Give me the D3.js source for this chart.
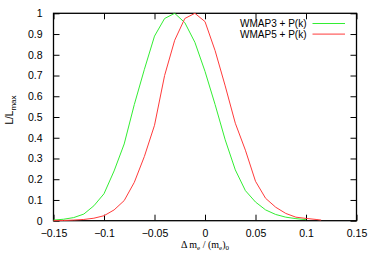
<!DOCTYPE html>
<html>
<head>
<meta charset="utf-8">
<script src="https://cdn.jsdelivr.net/npm/d3@7"></script>
<style>
  body { margin: 0; background: #fff; }
  text { font-family: "Liberation Sans", Arial, sans-serif; }
</style>
</head>
<body>
<script>
// chart size
var svgWidth = 375;
var svgHeight = 263;

var margin = { top: 13.3, right: 18.5, bottom: 42.3, left: 53.5 };

// data
var xValues = [-0.15, -0.14, -0.13, -0.12, -0.11, -0.10, -0.09, -0.08, -0.07, -0.06, -0.05,
  -0.04, -0.03, -0.02, -0.01, 0.00, 0.01, 0.02, 0.03, 0.04, 0.05, 0.06, 0.07, 0.08, 0.09, 0.10, 0.11, 0.115];
var wmap3 = [0.003, 0.007, 0.015, 0.032, 0.072, 0.13, 0.24, 0.37, 0.56, 0.73, 0.89,
  0.975, 1.0, 0.955, 0.86, 0.72, 0.56, 0.39, 0.245, 0.145, 0.09, 0.052, 0.03, 0.017, 0.01, 0.005, null, null];
var wmap5 = [0.0, 0.001, 0.003, 0.006, 0.012, 0.024, 0.052, 0.097, 0.185, 0.31, 0.46,
  0.70, 0.87, 0.975, 1.0, 0.96, 0.82, 0.65, 0.47, 0.34, 0.19, 0.108, 0.065, 0.035, 0.017, 0.011, 0.006, 0.003];
var seriesNames = ["WMAP3 + P(k)", "WMAP5 + P(k)"];
var seriesColors = ["#33ee33", "#ff3b3b"];
var xTicks = [-0.15, -0.1, -0.05, 0, 0.05, 0.1, 0.15];
var yTicks = [0, 0.1, 0.2, 0.3, 0.4, 0.5, 0.6, 0.7, 0.8, 0.9, 1];

var width = svgWidth - margin.left - margin.right;
var height = svgHeight - margin.top - margin.bottom;

var svg = d3.select("body")
  .append("svg")
  .attr("width", svgWidth)
  .attr("height", svgHeight);

var group = svg.append("g")
  .attr("transform", `translate(${margin.left}, ${margin.top})`);

var xScale = d3.scaleLinear().domain([-0.15, 0.15]).range([0, width]);
var yScale = d3.scaleLinear().domain([0, 1]).range([height, 0]);

var tickLen = 6;

// ticks inside on all four sides (gnuplot style)
var bottomAxis = d3.axisBottom(xScale).tickValues(xTicks).tickSize(-tickLen).tickPadding(tickLen + 3)
  .tickFormat(function(d) { return d === 0 ? "0" : d3.format("")(+d.toFixed(2)); });
var leftAxis = d3.axisLeft(yScale).tickValues(yTicks).tickSize(-tickLen).tickPadding(tickLen + 5)
  .tickFormat(function(d) { return d === 0 || d === 1 ? String(d) : d.toFixed(1); });
var topAxis = d3.axisTop(xScale).tickValues(xTicks).tickSize(-tickLen).tickFormat("");
var rightAxis = d3.axisRight(yScale).tickValues(yTicks).tickSize(-tickLen).tickFormat("");

function styleAxis(g) {
  g.select(".domain").remove();
  g.selectAll("line").attr("stroke", "#000").attr("stroke-width", 1);
  g.selectAll("text").attr("fill", "#000").style("font-size", "10.5px");
}

group.append("g").attr("transform", "translate(0," + height + ")").call(bottomAxis).call(styleAxis);
group.append("g").call(leftAxis).call(styleAxis);
group.append("g").call(topAxis).call(styleAxis);
group.append("g").attr("transform", "translate(" + width + ",0)").call(rightAxis).call(styleAxis);

// frame
group.append("rect")
  .attr("x", 0).attr("y", 0)
  .attr("width", width).attr("height", height)
  .attr("fill", "none").attr("stroke", "#000").attr("stroke-width", 1.3);

// curves
var line = d3.line()
  .defined(function(d) { return d[1] !== null; })
  .x(function(d) { return xScale(d[0]); })
  .y(function(d) { return yScale(d[1]); });

[wmap3, wmap5].forEach(function(vals, i) {
  var pts = xValues.map(function(x, j) { return [x, vals[j]]; });
  group.append("path")
    .datum(pts)
    .attr("d", line)
    .attr("fill", "none")
    .attr("stroke", seriesColors[i])
    .attr("stroke-width", 1);
});

// legend
var legend = group.append("g");
seriesNames.forEach(function(name, i) {
  var ly = 10.2 + i * 10.6;
  legend.append("text")
    .attr("x", 253)
    .attr("y", ly)
    .attr("dy", "0.35em")
    .attr("text-anchor", "end")
    .style("font-size", "10px")
    .text(name);
  legend.append("line")
    .attr("x1", 259).attr("x2", 291.5)
    .attr("y1", ly).attr("y2", ly)
    .attr("stroke", seriesColors[i])
    .attr("stroke-width", 1);
});

// y label
var yl = svg.append("text")
  .attr("transform", "translate(13,110) rotate(-90)")
  .attr("text-anchor", "middle")
  .style("font-size", "10px");
yl.append("tspan").text("L/L");
yl.append("tspan").attr("dy", 2.5).style("font-size", "8px").text("max");

// x label
var xl = svg.append("text")
  .attr("x", 205)
  .attr("y", 248)
  .attr("text-anchor", "middle")
  .style("font-family", "'Liberation Serif', 'DejaVu Serif', serif")
  .style("font-size", "10px");
xl.append("tspan").text("\u0394 m");
xl.append("tspan").attr("dy", 2).style("font-size", "7px").text("e");
xl.append("tspan").attr("dy", -2).text(" / (m");
xl.append("tspan").attr("dy", 2).style("font-size", "7px").text("e");
xl.append("tspan").attr("dy", -2).text(")");
xl.append("tspan").attr("dy", 2).style("font-size", "7px").text("0");
</script>
</body>
</html>
